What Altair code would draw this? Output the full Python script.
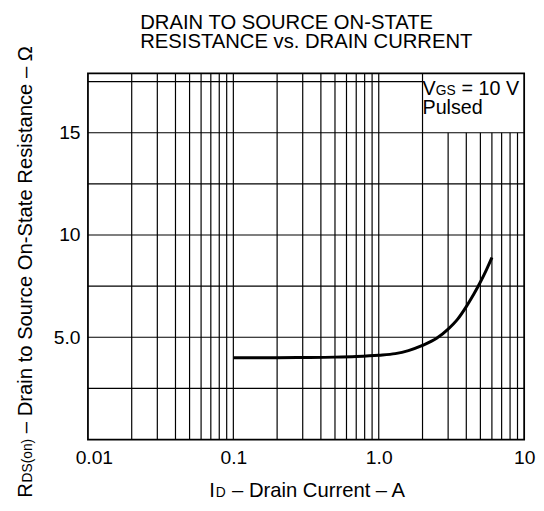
import altair as alt
import pandas as pd

# ---- data ----
id_a = [0.1, 0.2, 0.3, 0.5, 0.7, 1.0, 1.3, 1.6, 2.0, 2.5, 3.0, 3.5, 4.0, 4.5, 5.0, 5.5, 6.0]
rds = [4.0, 4.0, 4.01, 4.03, 4.06, 4.12, 4.2, 4.35, 4.6, 4.95, 5.4, 5.9, 6.5, 7.1, 7.7, 8.3, 8.9]

x_tick_values = [0.01, 0.1, 1, 10]
x_tick_labels = ["0.01", "0.1", "1.0", "10"]
y_tick_values = [5, 10, 15]
y_tick_labels = ["5.0", "10", "15"]

x_grid = [0.02, 0.03, 0.04, 0.05, 0.06, 0.07, 0.08, 0.09,
          0.1, 0.2, 0.3, 0.4, 0.5, 0.6, 0.7, 0.8, 0.9,
          1, 2, 3, 4, 5, 6, 7, 8, 9]
y_grid = [2.5, 5, 7.5, 10, 12.5, 15, 17.5]

x_domain = [0.01, 10]
y_domain = [0, 17.9]
box_x0 = 2      # left edge of the "VGS = 10 V / Pulsed" box
box_y0 = 15     # bottom edge of that box

FONT = "Liberation Sans"

curve = pd.DataFrame({"x": id_a, "y": rds})
vgrid = pd.DataFrame({
    "x": x_grid,
    "y0": [y_domain[0]] * len(x_grid),
    "y1": [box_y0 if v > box_x0 else y_domain[1] for v in x_grid],
})
hgrid = pd.DataFrame({
    "y": y_grid,
    "x0": [x_domain[0]] * len(y_grid),
    "x1": [box_x0 if v > box_y0 else x_domain[1] for v in y_grid],
})

def label_expr(values, labels):
    expr = "''"
    for v, l in zip(reversed(values), reversed(labels)):
        expr = f"abs(datum.value - {v}) < {v} * 0.01 ? '{l}' : ({expr})"
    return expr

xs = alt.Scale(type="log", domain=x_domain, nice=False)
ys = alt.Scale(domain=y_domain, nice=False, zero=False)

xa = alt.Axis(values=x_tick_values, labelExpr=label_expr(x_tick_values, x_tick_labels),
              domain=False, ticks=False, grid=False, title=None,
              labelFont=FONT, labelFontSize=19.5, labelColor="black", labelPadding=9,
              labelOverlap=False, labelBound=False, labelFlush=False,
              labelOffset={"condition": {"test": "datum.value < 0.02", "value": 6}, "value": 0})
ya = alt.Axis(values=y_tick_values, labelExpr=label_expr(y_tick_values, y_tick_labels),
              domain=False, ticks=False, grid=False, title=None,
              labelFont=FONT, labelFontSize=19.5, labelColor="black", labelPadding=8,
              labelOverlap=False)

vlines = alt.Chart(vgrid).mark_rule(color="black", strokeWidth=1.2).encode(
    x=alt.X("x:Q", scale=xs, axis=xa),
    y=alt.Y("y0:Q", scale=ys, axis=ya),
    y2="y1:Q",
)
hlines = alt.Chart(hgrid).mark_rule(color="black", strokeWidth=1.2).encode(
    x=alt.X("x0:Q", scale=xs, axis=xa),
    x2="x1:Q",
    y=alt.Y("y:Q", scale=ys, axis=ya),
)
line = alt.Chart(curve).mark_line(color="black", strokeWidth=3, interpolate="monotone").encode(
    x=alt.X("x:Q", scale=xs, axis=xa),
    y=alt.Y("y:Q", scale=ys, axis=ya),
)

one = pd.DataFrame({"k": [0]})

def txt(s, x, y, size, angle=0):
    m = dict(text=s, align="left", baseline="alphabetic", font=FONT, fontSize=size, color="black")
    if angle:
        m["angle"] = angle
    return alt.Chart(one).mark_text(**m).encode(x=alt.value(x), y=alt.value(y))

texts = [
    # chart title
    txt("DRAIN TO SOURCE ON-STATE", 53, -45, 20.5),
    txt("RESISTANCE vs. DRAIN CURRENT", 53, -26, 20.5),
    # in-plot note
    txt("V", 339, 22, 20),
    txt("GS", 352.5, 22, 14),
    txt("= 10 V", 378.5, 22, 20),
    txt("Pulsed", 339, 41, 20),
    # x axis title
    txt("I", 123, 429, 20.5),
    txt("D", 129.5, 429, 14),
    txt("\u2013 Drain Current \u2013 A", 146, 429, 20.5),
    # y axis title (rotated)
    txt("R", -57, 430, 20.5, 270),
    txt("DS(on)", -57, 414.5, 14, 270),
    txt("\u2013 Drain to Source On-State Resistance \u2013 \u03a9", -57, 364.5, 20.5, 270),
]

chart = alt.layer(vlines, hlines, line, *texts).properties(
    width=442, height=371,
    autosize=alt.AutoSizeParams(type="none"),
    padding={"left": 81, "top": 63, "right": 12, "bottom": 60},
    background="white",
).configure_view(stroke="black", strokeWidth=1.8)

chart.save("out.html", embed_options={"renderer": "svg", "actions": False})
